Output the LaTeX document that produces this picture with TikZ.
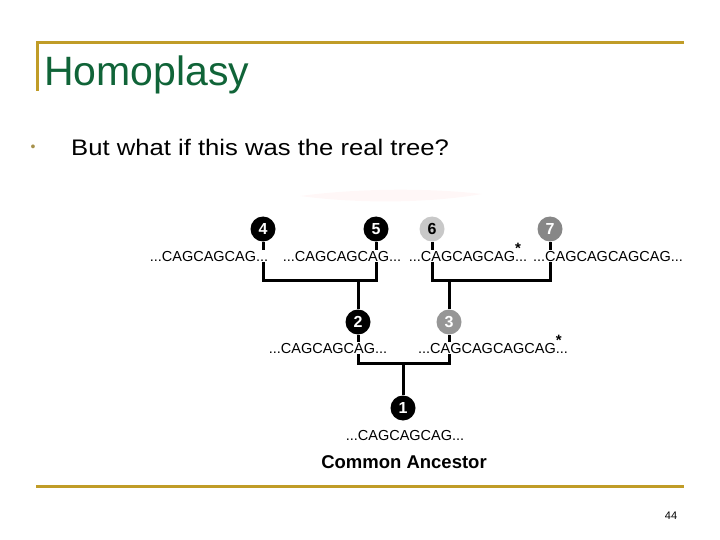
\documentclass[tikz,border=0pt]{standalone}
\usepackage{fontspec}
\setmainfont{Liberation Sans}
\definecolor{gold}{RGB}{192,156,40}
\definecolor{titlegreen}{RGB}{16,100,56}
\definecolor{lightnode}{RGB}{200,200,200}
\definecolor{midnode}{RGB}{135,135,135}
\definecolor{gnode}{RGB}{150,150,150}
\newcommand{\mystar}{\rlap{\smash{\raisebox{8pt}{\fontsize{15}{15}\selectfont\bfseries *}}}}
\begin{document}
\begin{tikzpicture}[x=1pt,y=-1pt,
  dot/.style={circle,minimum size=25pt,inner sep=0pt,font=\fontsize{16}{16}\selectfont\bfseries},
  blk/.style={dot,fill=black,text=white},
  seq/.style={font=\fontsize{14.5}{15}\selectfont,fill=white,inner sep=1pt,text height=10.5pt,text depth=0pt},
  branch/.style={line width=3pt}]
\useasboundingbox (0,0) rectangle (720,540);
% frame lines
\draw[gold,line width=3pt] (36,43) -- (684,43);
\draw[gold,line width=3pt] (37.5,42) -- (37.5,91);
\draw[gold,line width=3pt] (36,486) -- (684,486);
% title
\node[anchor=base west,text=titlegreen,font=\fontsize{41}{41}\selectfont,inner sep=0pt] (title) at (44,86) {Homoplasy};
\node[text=gold!60!gray,font=\fontsize{14}{14}\selectfont,inner sep=0pt] (bul) at (33,148) {•};
\node[anchor=west,font=\fontsize{22.5}{22.5}\selectfont,inner sep=0pt] (bt) at (71,147) {\scalebox{1.14}[1]{But what if this was the real tree?}};
% faint shadow
\fill[red!3!white] (300,196) .. controls (360,188) and (430,188) .. (482,194) .. controls (430,203) and (360,204) .. (300,196) -- cycle;
% coordinates
\coordinate (k45) at (376,280);
\coordinate (k67) at (550,280);
\coordinate (k23) at (449,363);
\coordinate (m45) at (358,280);
\coordinate (m67) at (449,280);
\coordinate (m23) at (403,363);
% nodes
\node[blk] (n4) at (263,229) {4};
\node[blk] (n5) at (376,229) {5};
\node[dot,fill=lightnode] (n6) at (432,229) {6};
\node[dot,fill=midnode,text=white] (n7) at (550,229) {7};
\node[blk] (n2) at (358,322) {2};
\node[dot,fill=gnode,text=white] (n3) at (449,322) {3};
\node[blk] (n1) at (403,408) {1};
% branches
\draw[branch] (n4) |- (k45) -- (n5);
\draw[branch] (n6) |- (k67) -- (n7);
\draw[branch] (m45) -- (n2);
\draw[branch] (m67) -- (n3);
\draw[branch] (n2) |- (k23) -- (n3);
\draw[branch] (m23) -- (n1);
% sequences
\node[seq] (s4) at (209,256) {...CAGCAGCAG...};
\node[seq] (s5) at (342,256) {...CAGCAGCAG...};
\node[seq] (s6) at (468,256) {...CAGCAGCAG\mystar...};
\node[seq] (s7) at (608,256) {...CAGCAGCAGCAG...};
\node[seq] (s2) at (328,348) {...CAGCAGCAG...};
\node[seq] (s3) at (493,348) {...CAGCAGCAGCAG\mystar...};
\node[seq] (s1) at (405,435) {...CAGCAGCAG...};
\node[font=\fontsize{18.5}{18.5}\selectfont\bfseries,inner sep=0pt] (ca) at (404,462) {Common Ancestor};
% page number
\node[font=\fontsize{11}{11}\selectfont,inner sep=0pt] (pg) at (671,516) {44};
\end{tikzpicture}
\end{document}
